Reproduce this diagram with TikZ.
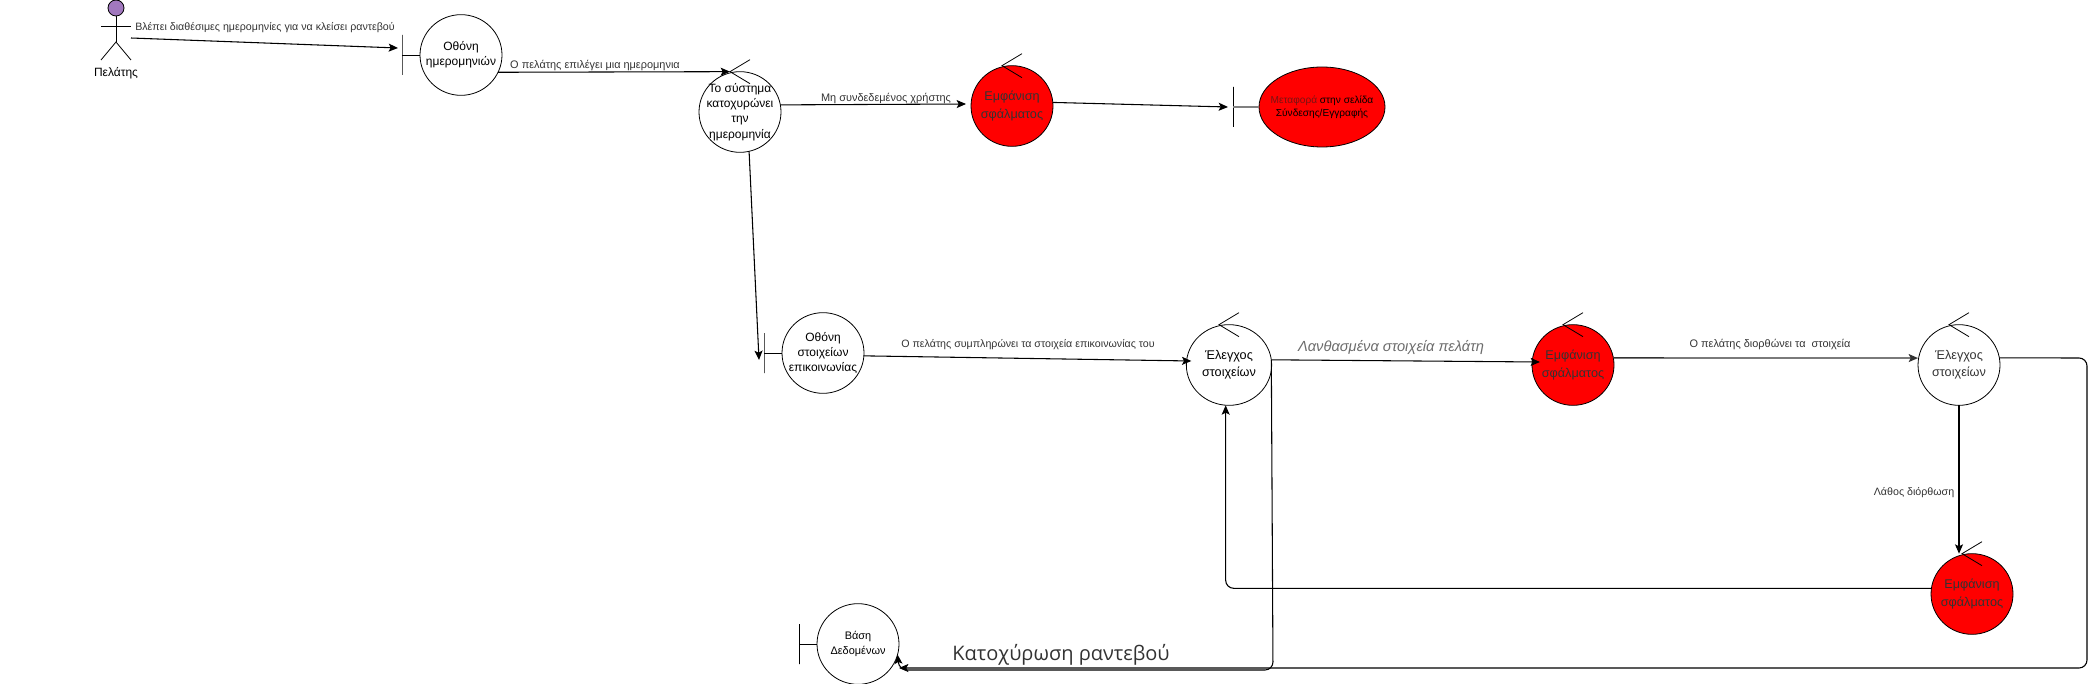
\documentclass[tikz,border=0pt]{standalone}
\usepackage{fontspec}
\setmainfont{Liberation Sans}
\newfontfamily\opensans{Open Sans}
\usetikzlibrary{arrows.meta}
\usetikzlibrary{shapes.geometric}
\definecolor{mred}{RGB}{255,0,0}
\definecolor{mtext}{RGB}{51,51,51}
\definecolor{mpurple}{RGB}{161,120,190}
\definecolor{mdark}{RGB}{120,20,20}
\tikzset{
    lobe/.style={ellipse, draw, inner sep=0pt, outer sep=0pt, minimum width=61.5pt, minimum height=60.5pt},
    errlobe/.style={lobe, fill=mred},
    lobecap/.style={align=center, inner sep=0pt, font=\fontsize{9}{11.5}\selectfont, text=black},
    errcap/.style={align=center, inner sep=0pt, font=\fontsize{9.5}{13}\selectfont, text=mtext},
    wall/.style={rectangle, draw, minimum width=0pt, minimum height=30pt, inner sep=0pt, outer sep=0pt},
    flow/.style={->, line width=.8pt},
    note/.style={font=\fontsize{8}{10}\selectfont, text=mtext, inner sep=0pt},
}
\begin{document}
\begin{tikzpicture}[x=.75pt, y=-.75pt, line width=.6pt, >={Stealth[length=7pt, width=6pt, inset=1.5pt]}]
    \useasboundingbox (0,0) rectangle (2095,684);

    \node[circle, draw, fill=mpurple, minimum size=12pt, inner sep=0pt] (head) at (116,8) {};
    \coordinate (hip) at (116,42);
    \coordinate (arms) at (116,26);
    \node[inner sep=0pt, font=\fontsize{9}{11}\selectfont] (customer) at (116,73) {Πελάτης};
    \draw (head) -- (hip);
    \draw ([shift={(-15,0)}]arms) -- ([shift={(15,0)}]arms);
    \draw ([shift={(-15,18)}]hip) -- (hip) -- ([shift={(15,18)}]hip);

    \node[lobe, label={[lobecap]center:{Οθόνη\\ημερομηνιών}}] (dates) at (461,55) {};
    \node[wall] (datesBar) at (402,55) {};
    \node[lobe, label={[lobecap]center:{Το σύστημα\\κατοχυρώνει\\την\\ημερομηνία}}] (store) at (740,112) {};
    \node[errlobe, label={[errcap]center:{Εμφάνιση\\σφάλματος}}] (loginErr) at (1012,106) {};
    \node[ellipse, draw, fill=mred, inner sep=0pt, outer sep=0pt, minimum width=94.5pt, minimum height=60pt, label={[align=center, inner sep=0pt, font=\fontsize{7.6}{9.5}\selectfont]center:{\textcolor{mdark}{Μεταφορά} στην σελίδα\\Σύνδεσης/Εγγραφής}}] (move) at (1322,107) {};
    \node[wall] (moveBar) at (1233,107) {};
    \node[lobe, minimum width=64pt, label={[lobecap, font=\fontsize{9.5}{13}\selectfont]center:{Έλεγχος\\στοιχείων}}] (checkA) at (1229,365) {};
    \node[lobe, label={[lobecap]center:{Οθόνη\\στοιχείων\\επικοινωνίας}}] (contact) at (823,353) {};
    \node[wall] (contactBar) at (764,353) {};
    \node[errlobe, label={[errcap]center:{Εμφάνιση\\σφάλματος}}] (wrongErr) at (1573,365) {};
    \node[lobe, label={[lobecap, font=\fontsize{9.5}{13}\selectfont, text=mtext]center:{Έλεγχος\\στοιχείων}}] (checkB) at (1959,365) {};
    \node[errlobe, label={[errcap]center:{Εμφάνιση\\σφάλματος}}] (fixErr) at (1972,594) {};
    \node[lobe, label={[lobecap, font=\fontsize{8.2}{11.5}\selectfont]center:{Βάση\\Δεδομένων}}] (base) at (858,644) {};
    \node[wall] (baseBar) at (799,644) {};

    \foreach \scr/\wl in {dates/datesBar, contact/contactBar, base/baseBar}
        \draw (\wl) -- (\scr);
    \draw[gray, line width=1pt] (moveBar) -- (move);

    \foreach \ctl in {store, loginErr, checkA, wrongErr, checkB, fixErr}
        \draw ([shift={(10,-12)}]\ctl.north) -- ([shift={(-10,0)}]\ctl.north) -- ([shift={(10,12)}]\ctl.north);

    \coordinate (outerTop) at (2087,358);
    \coordinate (outerFoot) at (2087,668);
    \coordinate (baseIn) at (899,668);
    \coordinate (lowCorner) at (1273,670);
    \coordinate (baseFoot) at (899,670);

    \draw[flow] ([shift={(15,12)}]arms) -- ([shift={(-4,-7)}]datesBar.center);
    \draw[flow] (dates.-25) -- ([shift={(-10,0)}]store.north);
    \draw[flow] (store.10) -- ([shift={(-5,-2)}]loginErr.west);
    \draw[flow] (loginErr.5) -- ([shift={(-5,0)}]moveBar.center);
    \draw[flow] (store.-77) -- ([shift={(-5,7)}]contactBar.center);
    \draw[flow] (contact.-4) -- ([shift={(5,-4)}]checkA.west);
    \draw[flow] (checkA.7) -- ([shift={(8,-3)}]wrongErr.west);
    \draw[flow, mtext, line width=1pt] (wrongErr.10) -- ([yshift=5.2pt]checkB.west);
    \draw[flow] (checkB.south) -- (fixErr.north -| checkB.south);
    \draw[flow, rounded corners=6pt] (fixErr.172) -| ([xshift=-2.5pt]checkA.south);
    \draw[flow, rounded corners=6pt] (checkB.10) -- (outerTop) -- (outerFoot) -- (baseIn);
    \draw[flow, rounded corners=6pt] (checkA.7) -- (lowCorner) -- (baseFoot) [sharp corners] -- (base.-15);

    \node[note] (seeLabel) at (265,28) {Βλέπει διαθέσιμες ημερομηνίες για να κλείσει ραντεβού};
    \node[note, font=\fontsize{8.2}{10}\selectfont] (pickLabel) at (595,66) {Ο πελάτης επιλέγει μια ημερομηνια};
    \node[note, font=\fontsize{8.2}{10}\selectfont] (guestLabel) at (886,99) {Μη συνδεδεμένος χρήστης};
    \node[note] (fillLabel) at (1028,345) {Ο πελάτης συμπληρώνει τα στοιχεία επικοινωνίας του};
    \node[note, text=gray!85!black, font=\itshape\fontsize{11}{14}\selectfont] (wrongLabel) at (1391,347) {Λανθασμένα στοιχεία πελάτη};
    \node[note, font=\fontsize{8.2}{10}\selectfont] (fixLabel) at (1770,345) {Ο πελάτης διορθώνει τα\ \ στοιχεία};
    \node[note] (badLabel) at (1914,493) {Λάθος διόρθωση};
    \node[note, font=\opensans\fontsize{15}{20}\selectfont] (saveLabel) at (1061,655) {Κατοχύρωση ραντεβού};
\end{tikzpicture}
\end{document}
